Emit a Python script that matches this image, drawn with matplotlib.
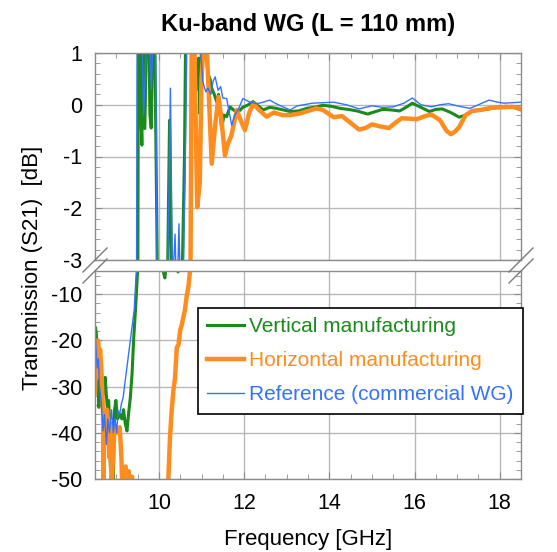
import matplotlib
matplotlib.use('Agg')
import matplotlib.pyplot as plt
from matplotlib.ticker import MultipleLocator
from matplotlib.lines import Line2D

plt.rcParams['font.family'] = ['Liberation Sans', 'DejaVu Sans']
plt.rcParams['axes.unicode_minus'] = False

# S21 traces (frequency in GHz, transmission in dB)
f_vert = [8.50, 8.51, 8.53, 8.55, 8.57, 8.59, 8.62, 8.66, 8.70, 8.74, 8.76, 8.80, 8.82, 8.84, 8.86, 8.90, 8.93, 8.96, 8.99, 9.03,
          9.08, 9.13, 9.17, 9.21, 9.25, 9.29, 9.33, 9.37, 9.41, 9.45, 9.50, 9.52,
          9.55, 9.58, 9.60, 9.63, 9.67, 9.71, 9.76, 9.79, 9.82, 9.86, 9.90, 9.96, 10.00, 10.05, 10.10, 10.14, 10.17, 10.20, 10.25, 10.30,
          10.35, 10.40, 10.45, 10.50, 10.55, 10.60, 10.63, 10.70, 10.78, 10.85, 10.89, 10.93, 10.96, 11.00, 11.08, 11.15, 11.20, 11.24, 11.30, 11.36,
          11.40, 11.47, 11.53, 11.59, 11.67, 11.75, 11.85, 11.97, 12.10, 12.21, 12.33, 12.45, 12.60, 12.76, 12.92, 13.08, 13.28, 13.47, 13.65, 13.85,
          14.05, 14.25, 14.45, 14.65, 14.90, 15.05, 15.25, 15.45, 15.65, 15.80, 15.95, 16.15, 16.35, 16.50, 16.65, 16.85, 17.05, 17.20, 17.35, 17.50,
          17.70, 17.85, 18.00, 18.15, 18.30, 18.50]
s_vert = [-22, -17.2, -18.3, -21.4, -29, -34.5, -30, -34, -31, -28, -31, -36, -33, -37, -47.5, -49, -50.5, -35, -33, -37,
          -36, -37, -35, -38, -39.6, -35.7, -32.3, -27.2, -19.3, -13.5, -5, 1.5,
          1.5, -0.2, -0.78, 1.5, -0.46, 1.5, 1.5, -0.2, -0.45, 1.5, 1.5, -3, -4.5, -3.5, -5, -6.5, -4, -3.5, -0.3, -3.5,
          -4.6, -3.8, -5.2, -4, -3.2, -1, 1.5, 1.2, 1.4, 0.8, 0.3, 0.9, -0.17, 1.2, 1.3, 0.6, 0.5, 0.32, 0.2, 0.05,
          0.2, -0.46, -0.2, -0.23, -0.04, -0.1, -0.15, -0.05, 0.0, 0.06, -0.02, -0.1, -0.05, -0.07, -0.1, -0.13, -0.12, -0.07, -0.05, -0.01,
          -0.03, -0.07, -0.09, -0.12, -0.18, -0.14, -0.09, -0.1, -0.12, -0.05, 0.03, -0.05, -0.13, -0.09, -0.08, -0.15, -0.24, -0.2, -0.13, -0.1,
          -0.09, -0.06, -0.04, -0.03, -0.04, -0.1]

f_hor = [8.50, 8.52, 8.55, 8.57, 8.60, 8.62, 8.65, 8.69, 8.70, 8.72, 8.75, 8.78, 8.80, 8.84, 8.86, 8.89, 8.93, 8.96, 9.00, 9.04,
         9.08, 9.12, 9.14, 9.17, 9.22, 9.24, 9.29, 9.32, 9.37, 9.40,
         10.20, 10.22, 10.26, 10.30, 10.34, 10.38, 10.42, 10.46, 10.50, 10.535, 10.61, 10.65, 10.69, 10.73, 10.77, 10.83, 10.90, 10.96, 11.00, 11.06,
         11.12, 11.24, 11.32, 11.40, 11.47, 11.55, 11.62, 11.70, 11.83, 11.92, 12.02, 12.12, 12.22, 12.35, 12.53, 12.70, 12.90, 13.08, 13.30, 13.50,
         13.70, 13.85, 14.10, 14.30, 14.50, 14.70, 14.85, 15.00, 15.20, 15.40, 15.55, 15.70, 15.90, 16.05, 16.25, 16.40, 16.60, 16.75, 16.85, 16.95,
         17.05, 17.20, 17.35, 17.55, 17.80, 18.00, 18.30, 18.50]
s_hor = [-31.5, -22, -28, -20, -24, -22, -26.5, -36, -52, -35, -40, -35, -37, -45.4, -38, -52, -44, -38.8, -40, -39.6,
         -38.8, -45.4, -52, -47.5, -47.3, -52, -48.3, -52, -49.5, -55,
         -55, -50.4, -41, -35.2, -30.9, -28, -21.5, -21, -17.8, -16.7, -13.5, -10.6, -8.6, -5, 1.3, 1.3, -1.98, -1.5, 0.5, 1.3,
         1.2, -1.14, -0.4, 0.15, -0.3, -0.98, -0.75, -0.6, -0.1, -0.3, -0.49, -0.15, 0.02, -0.1, -0.23, -0.15, -0.2, -0.2, -0.17, -0.12,
         -0.07, -0.1, -0.24, -0.22, -0.35, -0.48, -0.45, -0.38, -0.42, -0.45, -0.35, -0.26, -0.27, -0.28, -0.22, -0.19, -0.3, -0.5, -0.57, -0.52,
         -0.43, -0.2, -0.12, -0.1, -0.06, -0.05, -0.04, -0.08]

f_ref = [8.50, 8.52, 8.55, 8.58, 8.60, 8.65, 8.69, 8.72, 8.77, 8.80, 8.84, 8.89, 8.93, 8.97, 9.01, 9.04, 9.08, 9.12, 9.16, 9.20,
         9.24, 9.28, 9.32, 9.36, 9.42, 9.47, 9.49,
         9.53, 9.57, 9.60, 9.64, 9.67, 9.72, 9.77, 9.82, 9.87, 9.92, 9.97, 10.03, 10.10, 10.20, 10.24, 10.27, 10.32, 10.38, 10.42, 10.47,
         10.52, 10.58, 10.62, 10.66, 10.75, 10.85, 10.95, 11.03, 11.10, 11.15, 11.22, 11.27, 11.32, 11.39, 11.45, 11.50, 11.59, 11.64, 11.71, 11.78,
         11.86, 11.97, 12.14, 12.30, 12.45, 12.60, 12.80, 13.08, 13.25, 13.40, 13.60, 13.85, 14.10, 14.40, 14.70, 15.00, 15.25, 15.50, 15.75, 15.95,
         16.15, 16.40, 16.60, 16.80, 17.05, 17.30, 17.50, 17.75, 17.95, 18.10, 18.30, 18.50]
s_ref = [-18, -21, -26, -24, -29.4, -33.7, -39.6, -36, -42.5, -37, -40, -35, -40, -37, -40, -35.2, -36, -33.7, -32.4, -29.4,
         -26.5, -23.6, -20.7, -17.8, -13.5, -5, 1.5,
         1.5, 1.2, 1.5, -0.2, 0.4, 1.5, 1.5, 0.3, 1.5, 1.3, -4.5, -4, -3.8, -3.5, -1.5, 0.32, -3.5, -2.5, -4, -2.3,
         -4.2, -3, -1, 1.5, 1.5, 1.3, 1.4, 0.45, 0.25, 0.32, 0.2, 0.45, 0.54, 0.28, 0.35, 0.13, 0.12, -0.1, -0.4, -0.2,
         -0.1, 0.12, 0.05, 0.02, 0.05, 0.09, 0.0, -0.1, -0.02, 0.0, 0.03, 0.04, 0.05, 0.0, -0.08, -0.02, -0.05, -0.04, 0.03, 0.13,
         0.0, -0.04, 0.0, 0.02, -0.03, -0.07, 0.0, 0.09, 0.05, 0.03, 0.04, 0.05]

labels = ['Vertical manufacturing', 'Horizontal manufacturing', 'Reference (commercial WG)']
colors = ['#1a8a1a', '#ff8c1e', '#3272ff']
widths = [2.2, 3.2, 1.0]
series = [(f_vert, s_vert), (f_hor, s_hor), (f_ref, s_ref)]

W, H = 557, 552
def box(l, t, r, b):
    return [l / W, 1 - b / H, (r - l) / W, (b - t) / H]

fig = plt.figure(figsize=(W / 100, H / 100), dpi=100)
ax_top = fig.add_axes(box(95, 53, 521, 260))
ax_bot = fig.add_axes(box(95, 271, 521, 479))

for ax in (ax_top, ax_bot):
    for (f, s), c, lw, lab in zip(series, colors, widths, labels):
        ax.plot(f, s, color=c, lw=lw, label=lab)
    ax.set_xlim(8.5, 18.5)
    ax.xaxis.set_major_locator(MultipleLocator(2))
    ax.xaxis.set_minor_locator(MultipleLocator(0.5))
    ax.grid(True, which='major', color='#b8b8b8', lw=1.0)
    ax.set_axisbelow(True)
    for sp in ax.spines.values():
        sp.set_color('#8c8c8c')
        sp.set_linewidth(1.0)
    ax.tick_params(which='both', direction='in', left=True, right=True,
                   colors='#8c8c8c', labelcolor='black', labelsize=15.5)
    ax.tick_params(which='major', length=5)
    ax.tick_params(which='minor', length=3.5)
    ax.tick_params(axis='y', pad=9)

ax_top.set_ylim(-3, 1)
ax_top.yaxis.set_major_locator(MultipleLocator(1))
ax_top.yaxis.set_minor_locator(MultipleLocator(0.2))
ax_top.tick_params(axis='x', which='both', top=True, bottom=False, labelbottom=False)

ax_bot.set_ylim(-50, -5)
ax_bot.set_yticks([-10, -20, -30, -40, -50])
ax_bot.yaxis.set_minor_locator(MultipleLocator(2))
ax_bot.tick_params(axis='x', which='both', top=False, bottom=True, pad=10)

# break marks on both sides
for xp in (95, 521):
    for yc in (260, 271):
        fig.add_artist(Line2D([(xp - 12) / W, (xp + 12) / W],
                              [1 - (yc + 12) / H, 1 - (yc - 12) / H],
                              transform=fig.transFigure, color='#7a7a7a', lw=1.0))

fig.text(308 / W, 1 - 24 / H, 'Ku-band WG (L = 110 mm)', ha='center', va='center',
         fontsize=17, fontweight='bold')
fig.text(308 / W, 1 - 540 / H, 'Frequency [GHz]', ha='center', va='center', fontsize=16)
fig.text(33 / W, 1 - 268 / H, 'Transmission (S21)  [dB]', ha='center', va='center',
         rotation=90, fontsize=16)

leg = ax_bot.legend(loc='upper left', bbox_to_anchor=(198 / W, 1 - 308 / H),
                    bbox_transform=fig.transFigure, fontsize=15, frameon=True,
                    fancybox=False, framealpha=1, borderpad=0.45, labelspacing=0.72,
                    handlelength=1.75, handletextpad=0.25, borderaxespad=0)
leg.get_frame().set_edgecolor('black')
leg.get_frame().set_linewidth(1.2)
for txt, c in zip(leg.get_texts(), colors):
    txt.set_color(c)

fig.savefig('out.png', dpi=100)
